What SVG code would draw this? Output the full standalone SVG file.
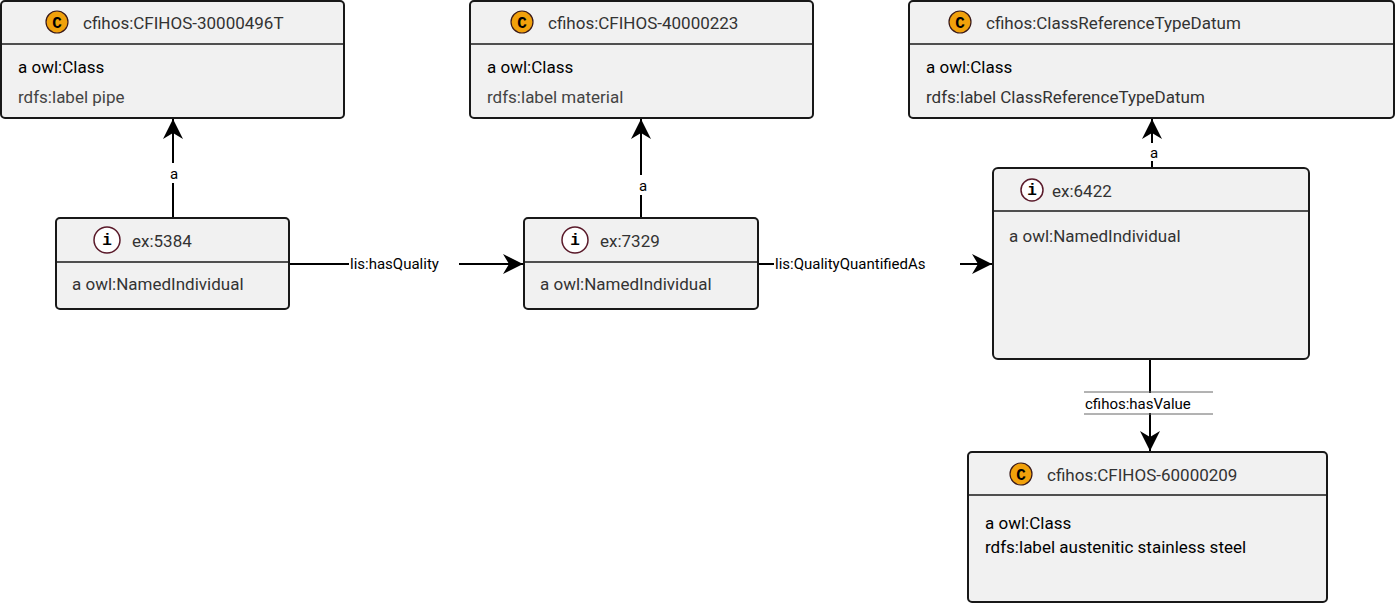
<svg xmlns="http://www.w3.org/2000/svg" width="1395" height="603" viewBox="0 0 1395 603">
<style>
.box{fill:#f1f1f1;stroke:#181818;stroke-width:2}
.div{stroke:#181818;stroke-width:1.5}
text{font-family:Roboto,"Liberation Sans",sans-serif;font-size:17px;fill:#000}
.t{fill:#333}
.g{fill:#444}
.cI{fill:#f1a10b;stroke:#3a1a1a;stroke-width:1.2}
.iI{fill:#fff;stroke:#5a1a2a;stroke-width:1.5}
.ic{font-family:"Liberation Mono",monospace;font-weight:bold;font-size:16px;text-anchor:middle}
.e{stroke:#000;stroke-width:2;fill:none}
.lbl{font-size:15px}
.lb{fill:#fff;stroke:none}
</style>
<defs>
<marker id="ar" viewBox="0 0 20 20" refX="20" refY="10" markerWidth="20" markerHeight="20" markerUnits="userSpaceOnUse" orient="auto">
<path d="M0,0 L20,10 L0,20 L6,10 Z" fill="#000"/>
</marker>
</defs>
<g id="connectors">
<line class="e" x1="173" y1="218" x2="173" y2="119" marker-end="url(#ar)"/>
<rect class="lb" x="168" y="163" width="12" height="20"/><text class="lbl" x="170" y="179">a</text>
<line class="e" x1="641" y1="218" x2="641" y2="119" marker-end="url(#ar)"/>
<rect class="lb" x="638" y="175" width="12" height="20"/><text class="lbl" x="639" y="191">a</text>
<line class="e" x1="1152" y1="168" x2="1152" y2="119" marker-end="url(#ar)"/>
<rect class="lb" x="1149" y="143" width="12" height="18"/><text class="lbl" x="1150" y="158">a</text>
<line class="e" x1="290" y1="264" x2="523" y2="264" marker-end="url(#ar)"/>
<rect class="lb" x="349" y="254" width="110" height="20"/><text class="lbl" x="350" y="269">lis:hasQuality</text>
<line class="e" x1="759" y1="264" x2="992" y2="264" marker-end="url(#ar)"/>
<rect class="lb" x="774" y="254" width="186" height="20"/><text class="lbl" x="775" y="269">lis:QualityQuantifiedAs</text>
<line class="e" x1="1150" y1="360" x2="1150" y2="451" marker-end="url(#ar)"/>
<rect class="lb" x="1084" y="393" width="130" height="20"/><text class="lbl" x="1085" y="409">cfihos:hasValue</text>
<line x1="1084" y1="392" x2="1213" y2="392" stroke="#666" stroke-width="1"/>
<line x1="1084" y1="414" x2="1213" y2="414" stroke="#666" stroke-width="1"/>
</g>
<g id="class1">
<rect class="box" x="1" y="1" width="343" height="117" rx="4"/>
<line class="div" x1="1" y1="44" x2="344" y2="44"/>
<circle class="cI" cx="57" cy="22" r="11"/><text class="ic" x="57" y="28">C</text>
<text class="t" x="83" y="29">cfihos:CFIHOS-30000496T</text>
<text x="18" y="73">a owl:Class</text>
<text class="g" x="18" y="103">rdfs:label pipe</text>
</g>
<g id="class2">
<rect class="box" x="470" y="1" width="343" height="117" rx="4"/>
<line class="div" x1="470" y1="44" x2="813" y2="44"/>
<circle class="cI" cx="522" cy="22" r="11"/><text class="ic" x="522" y="28">C</text>
<text class="t" x="548" y="29">cfihos:CFIHOS-40000223</text>
<text x="487" y="73">a owl:Class</text>
<text class="g" x="487" y="103">rdfs:label material</text>
</g>
<g id="class3">
<rect class="box" x="909" y="1" width="485" height="117" rx="4"/>
<line class="div" x1="909" y1="44" x2="1394" y2="44"/>
<circle class="cI" cx="960" cy="22" r="11"/><text class="ic" x="960" y="28">C</text>
<text class="t" x="986" y="29">cfihos:ClassReferenceTypeDatum</text>
<text x="926" y="73">a owl:Class</text>
<text class="t" x="926" y="103">rdfs:label ClassReferenceTypeDatum</text>
</g>
<g id="class4">
<rect class="box" x="968" y="452" width="359" height="150" rx="4"/>
<line class="div" x1="968" y1="495" x2="1327" y2="495"/>
<circle class="cI" cx="1021" cy="474" r="11"/><text class="ic" x="1021" y="480">C</text>
<text class="t" x="1047" y="481">cfihos:CFIHOS-60000209</text>
<text x="985" y="529">a owl:Class</text>
<text x="985" y="553">rdfs:label austenitic stainless steel</text>
</g>
<g id="ind5384">
<rect class="box" x="56" y="218" width="233" height="91" rx="4"/>
<line class="div" x1="56" y1="262" x2="289" y2="262"/>
<circle class="iI" cx="107" cy="240" r="13"/><text class="ic" x="107" y="245">i</text>
<text class="t" x="132" y="247">ex:5384</text>
<text class="t" x="72" y="290">a owl:NamedIndividual</text>
</g>
<g id="ind7329">
<rect class="box" x="524" y="218" width="234" height="91" rx="4"/>
<line class="div" x1="524" y1="262" x2="758" y2="262"/>
<circle class="iI" cx="575" cy="240" r="13"/><text class="ic" x="575" y="245">i</text>
<text class="t" x="600" y="247">ex:7329</text>
<text class="t" x="540" y="290">a owl:NamedIndividual</text>
</g>
<g id="ind6422">
<rect class="box" x="993" y="168" width="316" height="191" rx="5"/>
<line class="div" x1="993" y1="211" x2="1309" y2="211"/>
<circle class="iI" cx="1032" cy="190" r="11"/><text class="ic" x="1032" y="195">i</text>
<text class="t" x="1052" y="197">ex:6422</text>
<text class="t" x="1009" y="242">a owl:NamedIndividual</text>
</g>
</svg>
